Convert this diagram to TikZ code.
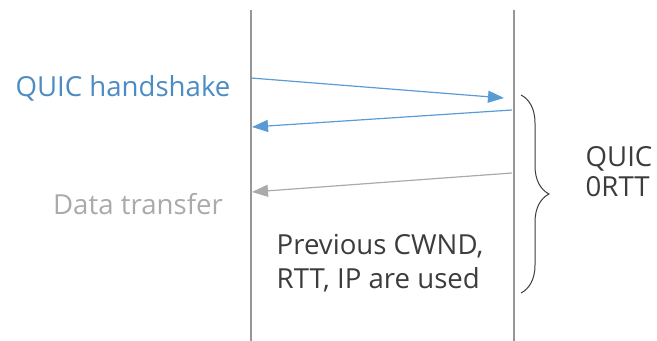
\documentclass[tikz,border=0pt]{standalone}
\usepackage{fontspec}
\setmainfont{Open Sans}
\usepackage{xcolor}
\usetikzlibrary{arrows.meta,decorations.pathreplacing}
\definecolor{msgblue}{RGB}{91,155,213}
\definecolor{lblblue}{RGB}{76,140,196}
\definecolor{msggray}{RGB}{170,170,170}
\definecolor{lifegray}{RGB}{150,150,150}
\definecolor{txtgray}{RGB}{60,60,60}

\begin{document}
\begin{tikzpicture}[x=0.5pt,y=-0.5pt,
  lifeline/.style={lifegray,line width=1pt},
  msg/.style={line width=0.6pt,-{Triangle[length=8pt,width=6pt]}},
  lbl/.style={font=\fontsize{13.8}{15}\selectfont,inner sep=0pt}]
 \useasboundingbox (0,0) rectangle (657,341);
  % the two end points
  \coordinate (cltop) at (251,10);
  \coordinate (clbot) at (251,341);
  \coordinate (svtop) at (514,10);
  \coordinate (svbot) at (514,341);
  \draw[lifeline] (cltop) -- (clbot);
  \draw[lifeline] (svtop) -- (svbot);

  % handshake
  \coordinate (hsa) at (251,78);
  \coordinate (hsb) at (504,98);
  \coordinate (hsc) at (512,110);
  \coordinate (hsd) at (252,127);
  \draw[msg,msgblue] (hsa) -- (hsb);
  \draw[msg,msgblue] (hsc) -- (hsd);
  \node[lbl,lblblue] (hslbl) at (123,88) {QUIC handshake};

  % data
  \coordinate (dta) at (512,173);
  \coordinate (dtb) at (252,192);
  \draw[msg,msggray] (dta) -- (dtb);
  \node[lbl,msggray] (dtlbl) at (138,204) {Data transfer};

  \node[lbl,txtgray,align=left,font=\fontsize{13.8}{17}\selectfont] (prev) at (380,263)
    {Previous CWND,\\RTT, IP are used};

  % 0RTT brace
  \coordinate (bra) at (521,95);
  \coordinate (brb) at (521,293);
  \draw[txtgray,line width=0.5pt,decorate,decoration={brace,amplitude=14pt}] (bra) -- (brb);
  \node[lbl,txtgray,align=left,font=\fontsize{13.8}{15}\selectfont] (zrtt) at (619,172) {QUIC\\0RTT};
\end{tikzpicture}
\end{document}
